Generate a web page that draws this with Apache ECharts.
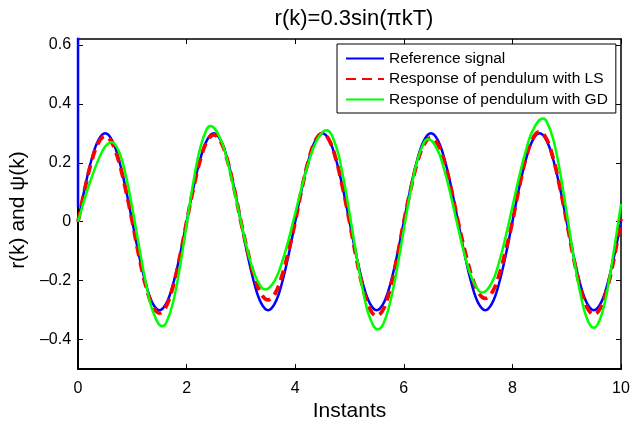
<!DOCTYPE html>
<html>
<head>
<meta charset="utf-8">
<script src="https://cdn.jsdelivr.net/npm/echarts@6/dist/echarts.min.js"></script>
<style>html,body{margin:0;padding:0;background:#fff;}#c{width:642px;height:427px;}</style>
</head>
<body>
<div id="c"></div>
<script>
const instants = [0,0.125,0.25,0.375,0.5,0.625,0.75,0.875,1,1.125,1.25,1.375,1.5,1.625,1.75,1.875,2,2.125,2.25,2.375,2.5,2.625,2.75,2.875,3,3.125,3.25,3.375,3.5,3.625,3.75,3.875,4,4.125,4.25,4.375,4.5,4.625,4.75,4.875,5,5.125,5.25,5.375,5.5,5.625,5.75,5.875,6,6.125,6.25,6.375,6.5,6.625,6.75,6.875,7,7.125,7.25,7.375,7.5,7.625,7.75,7.875,8,8.125,8.25,8.375,8.5,8.625,8.75,8.875,9,9.125,9.25,9.375,9.5,9.625,9.75,9.875,10];

const reference = [
0,0.115,0.212,0.277,0.3,0.277,0.212,0.115,
0,-0.115,-0.212,-0.277,-0.3,-0.277,-0.212,-0.115,
0,0.115,0.212,0.277,0.3,0.277,0.212,0.115,
0,-0.115,-0.212,-0.277,-0.3,-0.277,-0.212,-0.115,
0,0.115,0.212,0.277,0.3,0.277,0.212,0.115,
0,-0.115,-0.212,-0.277,-0.3,-0.277,-0.212,-0.115,
0,0.115,0.212,0.277,0.3,0.277,0.212,0.115,
0,-0.115,-0.212,-0.277,-0.3,-0.277,-0.212,-0.115,
0,0.115,0.212,0.277,0.3,0.277,0.212,0.115,
0,-0.115,-0.212,-0.277,-0.3,-0.277,-0.212,-0.115,
0];

const spikeX = [0, 0];
const spikeY = [0.05, 1.0];

const responseLS = [
0,0.111,0.205,0.268,0.29,0.268,0.205,0.111,
0,-0.119,-0.219,-0.286,-0.31,-0.286,-0.219,-0.119,
0,0.113,0.209,0.273,0.295,0.273,0.209,0.113,
0,-0.101,-0.187,-0.245,-0.265,-0.245,-0.187,-0.101,
0,0.115,0.212,0.277,0.30,0.277,0.212,0.115,
0,-0.122,-0.226,-0.296,-0.32,-0.296,-0.226,-0.122,
0,0.109,0.202,0.263,0.285,0.263,0.202,0.109,
0,-0.099,-0.184,-0.240,-0.26,-0.240,-0.184,-0.099,
0,0.117,0.216,0.282,0.305,0.282,0.216,0.117,
0,-0.121,-0.223,-0.291,-0.315,-0.291,-0.223,-0.121,
0.01];

const instantsGD = [0,0.125,0.25,0.375,0.5,0.62,0.75,0.875,1,1.125,1.25,1.375,1.55,1.625,1.75,1.875,2,2.125,2.25,2.375,2.44,2.625,2.75,2.875,3,3.125,3.25,3.375,3.45,3.625,3.75,3.875,4,4.125,4.25,4.375,4.5,4.58,4.75,4.875,5,5.125,5.25,5.375,5.52,5.625,5.75,5.875,6,6.125,6.25,6.375,6.45,6.625,6.75,6.875,7,7.125,7.25,7.375,7.45,7.625,7.75,7.875,8,8.125,8.25,8.375,8.56,8.625,8.75,8.875,9,9.125,9.25,9.375,9.5,9.625,9.75,9.875,10];

const responseGD = [
0,0.08,0.15,0.21,0.255,0.27,0.240,0.161,
0.046,-0.085,-0.208,-0.302,-0.355,-0.343,-0.274,-0.155,
-0.009,0.136,0.251,0.316,0.325,0.280,0.206,0.107,
0.000,-0.100,-0.178,-0.222,-0.23,-0.199,-0.141,-0.063,
0.029,0.121,0.204,0.268,0.303,0.31,0.257,0.159,
0.029,-0.111,-0.237,-0.326,-0.365,-0.345,-0.272,-0.160,
-0.026,0.104,0.209,0.270,0.28,0.242,0.173,0.081,
-0.021,-0.116,-0.190,-0.233,-0.24,-0.205,-0.140,-0.051,
0.051,0.153,0.243,0.310,0.35,0.342,0.281,0.171,
0.030,-0.116,-0.243,-0.329,-0.360,-0.325,-0.229,-0.091,
0.06];

const xTicks = [0, 2, 4, 6, 8, 10];
const yTicks = [-0.4, -0.2, 0, 0.2, 0.4, 0.6];
const seriesNames = ['Reference signal', 'Response of pendulum with LS', 'Response of pendulum with GD'];
const titleText = 'r(k)=0.3sin(\u03c0kT)';
const xName = 'Instants';
const yName = 'r(k) and \u03c8(k)';

const FONT = 'Liberation Sans, Arial, Helvetica, sans-serif';
const pair = (xs, ys) => xs.map((x, i) => [x, ys[i]]);
const fmtY = v => {
  const r = Math.round(v * 10) / 10;
  if (r === 0) return '0';
  return (r < 0 ? '\u2013' : '') + Math.abs(r).toString();
};

const chart = echarts.init(document.getElementById('c'), null, {renderer: 'canvas'});
const axisLineStyle = {color: '#000', width: 2};
const SMOOTH = 0.4;
chart.setOption({
  backgroundColor: '#fff',
  animation: false,
  title: {
    text: titleText, left: 349, top: 3, textAlign: 'center',
    textStyle: {fontFamily: FONT, fontSize: 22, fontWeight: 'normal', color: '#000'}
  },
  legend: {
    orient: 'vertical', left: 337, top: 44,
    data: seriesNames,
    itemWidth: 38, itemHeight: 14, itemGap: 3.5,
    padding: [6, 8, 5, 8],
    borderColor: '#000', borderWidth: 1, backgroundColor: '#fff',
    itemStyle: {opacity: 0, color: 'rgba(0,0,0,0)', borderWidth: 0},
    textStyle: {fontFamily: FONT, fontSize: 15.5, color: '#000', lineHeight: 17}
  },
  grid: {left: 75, right: 21, top: 39, bottom: 49, containLabel: false},
  xAxis: [{
    type: 'value', min: 0, max: 10, interval: 2, position: 'bottom',
    name: xName, nameLocation: 'middle', nameGap: 22,
    nameTextStyle: {fontFamily: FONT, fontSize: 21, color: '#000'},
    axisLine: {show: true, onZero: false, lineStyle: axisLineStyle},
    axisTick: {show: true, inside: true, length: 5, lineStyle: {color: '#000', width: 1}},
    axisLabel: {fontFamily: FONT, fontSize: 16, color: '#000', margin: 11},
    splitLine: {show: false}
  }, {
    type: 'value', min: 0, max: 10, interval: 2, position: 'top',
    axisLine: {show: true, onZero: false, lineStyle: {color: '#000', width: 1.5}},
    axisTick: {show: true, inside: true, length: 5, lineStyle: {color: '#000', width: 1}},
    axisLabel: {show: false}, splitLine: {show: false}
  }],
  yAxis: [{
    type: 'value', min: -0.5, max: 0.62, position: 'left',
    name: yName, nameLocation: 'middle', nameGap: 42, nameRotate: 90,
    nameTextStyle: {fontFamily: FONT, fontSize: 21, color: '#000', padding: [0, 12, 0, 0]},
    axisLine: {show: true, onZero: false, lineStyle: axisLineStyle},
    axisTick: {show: true, inside: true, length: 5, customValues: yTicks, lineStyle: {color: '#000', width: 1}},
    axisLabel: {fontFamily: FONT, fontSize: 16, color: '#000', margin: 7, customValues: yTicks, formatter: fmtY},
    splitLine: {show: false}
  }, {
    type: 'value', min: -0.5, max: 0.62, position: 'right',
    axisLine: {show: true, onZero: false, lineStyle: {color: '#000', width: 1.5}},
    axisTick: {show: true, inside: true, length: 5, customValues: yTicks, lineStyle: {color: '#000', width: 1}},
    axisLabel: {show: false}, splitLine: {show: false}
  }],
  series: [{
    name: seriesNames[0], type: 'line', xAxisIndex: 0, yAxisIndex: 0,
    data: pair(spikeX, spikeY), showSymbol: false, symbol: 'none', clip: true,
    lineStyle: {color: '#0000ff', width: 2.5}, itemStyle: {color: '#0000ff'}
  }, {
    name: seriesNames[0], type: 'line', xAxisIndex: 0, yAxisIndex: 0,
    data: pair(instants, reference), smooth: SMOOTH, showSymbol: false, symbol: 'none', clip: true,
    lineStyle: {color: '#0000ff', width: 2.5}, itemStyle: {color: '#0000ff'}
  }, {
    name: seriesNames[1], type: 'line', xAxisIndex: 0, yAxisIndex: 0,
    data: pair(instants, responseLS), smooth: SMOOTH, showSymbol: false, symbol: 'none', clip: true,
    lineStyle: {color: '#ff0000', width: 3.8, type: [10, 6]}, itemStyle: {color: '#ff0000'}
  }, {
    name: seriesNames[2], type: 'line', xAxisIndex: 0, yAxisIndex: 0,
    data: pair(instantsGD, responseGD), smooth: SMOOTH, showSymbol: false, symbol: 'none', clip: true,
    lineStyle: {color: '#00ff00', width: 2.5}, itemStyle: {color: '#00ff00'}
  }]
});
</script>
</body>
</html>
